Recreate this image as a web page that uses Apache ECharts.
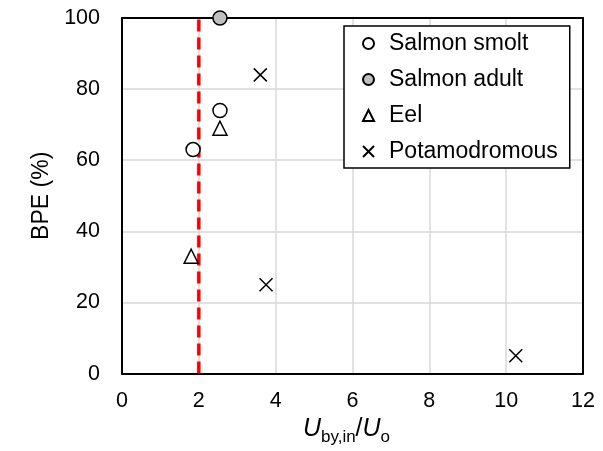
<!DOCTYPE html>
<html lang="en">
<head>
    <meta charset="UTF-8">
    <title>BPE vs velocity ratio</title>
 <style>
     html, body { margin: 0; padding: 0; background: #fff; }
     #main{
         width:603px;
         height:451px;
          }
  </style>
</head>
<body>
<div id="main"></div>
</body>
<script src="https://cdn.jsdelivr.net/npm/echarts@6/dist/echarts.min.js"></script>
<script>
    // values: [U_by,in/U_o, BPE %]
    var salmonSmolt = [[1.85, 63], [2.55, 74]];
    var salmonAdult = [[2.55, 100]];
    var eel = [[2.55, 69], [1.8, 33]];
    var potamodromous = [[3.6, 84], [3.75, 25], [10.25, 5]];
    var thresholdLine = [[2, 0], [2, 100]];
    var seriesNames = ['Salmon smolt', 'Salmon adult', 'Eel', 'Potamodromous'];

    var font = 'Liberation Sans, Arial, sans-serif';
    var crossPath = 'path://M0,0L10,10M10,0L0,10';

    var chart = echarts.init(document.getElementById('main'));

    function markerSeries(name, data, symbol, size, fill) {
        return {
            name: name,
            type: 'scatter',
            data: data,
            symbol: symbol,
            symbolSize: size,
            clip: false,
            z: 5,
            itemStyle: {
                color: fill,
                borderColor: '#000',
                borderWidth: 1.5,
                opacity: 1
            }
        };
    }

    // border axes for top and right edges of the frame
    function frameAxis(extra) {
        var ax = {
            type: 'value',
            axisLine: { show: true, onZero: false, lineStyle: { color: '#000', width: 2 } },
            axisTick: { show: false },
            axisLabel: { show: false },
            splitLine: { show: false },
            z: 4
        };
        for (var k in extra) ax[k] = extra[k];
        return ax;
    }

    var option = {
        animation: false,
        textStyle: { fontFamily: font },
        grid: {
            left: 122,
            right: 20,
            top: 18,
            bottom: 73,
            show: true,
            borderColor: '#000',
            borderWidth: 0,
            backgroundColor: '#fff'
        },
        legend: {
            data: seriesNames,
            orient: 'vertical',
            left: 344,
            top: 26,
            padding: [6, 12, 5, 18],
            itemGap: 13,
            itemWidth: 11,
            itemHeight: 11,
            backgroundColor: '#fff',
            borderColor: '#000',
            borderWidth: 1.5,
            borderRadius: 0,
            textStyle: {
                fontFamily: font,
                fontSize: 23,
                color: '#000',
                padding: [0, 0, 0, 10]
            }
        },
        xAxis: [{
            type: 'value',
            min: 0,
            max: 12,
            interval: 2,
            name: '{i|U}{s|by,in}{n|/}{i|U}{s|o}',
            nameLocation: 'middle',
            nameGap: 38,
            nameTextStyle: {
                padding: [0, 12, 0, 0],
                rich: {
                    i: { fontFamily: font, fontSize: 25, fontStyle: 'italic', color: '#000', lineHeight: 34, verticalAlign: 'middle' },
                    n: { fontFamily: font, fontSize: 25, color: '#000', lineHeight: 34, verticalAlign: 'middle' },
                    s: { fontFamily: font, fontSize: 17, color: '#000', lineHeight: 34, verticalAlign: 'bottom' }
                }
            },
            axisLine: { show: true, lineStyle: { color: '#000', width: 2 } },
            axisTick: { show: false },
            axisLabel: { fontSize: 21.5, color: '#000', margin: 16, fontFamily: font },
            splitLine: { show: true, lineStyle: { color: '#d9d9d9', width: 1.5 } }
        }, frameAxis({ position: 'top', min: 0, max: 12 })],
        yAxis: [{
            type: 'value',
            min: 0,
            max: 100,
            interval: 20,
            name: 'BPE (%)',
            nameLocation: 'middle',
            nameGap: 69,
            nameTextStyle: { fontSize: 23, color: '#000', fontFamily: font },
            axisLine: { show: true, lineStyle: { color: '#000', width: 2 } },
            axisTick: { show: false },
            axisLabel: { fontSize: 21.5, color: '#000', margin: 22, fontFamily: font },
            splitLine: { show: true, lineStyle: { color: '#d9d9d9', width: 1.5 } }
        }, frameAxis({ position: 'right', min: 0, max: 100 })],
        series: [
            {
                name: 'threshold',
                type: 'line',
                data: thresholdLine,
                symbol: 'none',
                z: 3,
                lineStyle: { color: '#ff0000', width: 3.5, type: [12, 6] }
            },
            markerSeries(seriesNames[0], salmonSmolt, 'circle', 14, '#fff'),
            markerSeries(seriesNames[1], salmonAdult, 'circle', 14, '#bfbfbf'),
            markerSeries(seriesNames[2], eel, 'triangle', 14, '#fff'),
            markerSeries(seriesNames[3], potamodromous, crossPath, 13, 'rgba(0,0,0,0)')
        ]
    };

    chart.setOption(option);
</script>
</html>
